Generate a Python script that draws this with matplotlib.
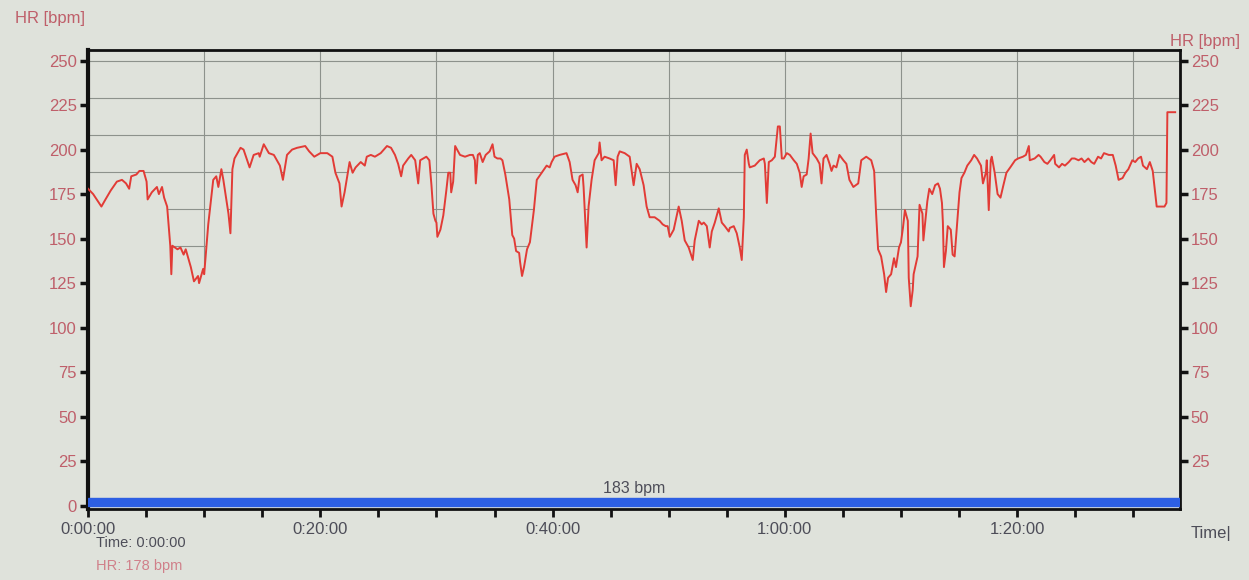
import matplotlib.pyplot as plt
import matplotlib.transforms as mtransforms
from matplotlib.ticker import MultipleLocator, FuncFormatter

plt.rcParams['font.family'] = ['Liberation Sans', 'DejaVu Sans']

# heart-rate trace: elapsed minutes, bpm
minutes = [
    0.0, 0.44, 1.15, 1.5, 1.95, 2.48, 2.92, 3.27, 3.54, 3.72, 4.16, 4.42, 4.78, 5.04, 5.13,
    5.49, 5.93, 6.1, 6.37, 6.55, 6.81, 7.08, 7.17, 7.26, 7.7, 7.96, 8.23, 8.41, 8.67, 8.85,
    9.12, 9.47, 9.56, 9.91, 10.0, 10.35, 10.78, 11.04, 11.22, 11.48, 11.65, 12.09, 12.26,
    12.43, 12.61, 13.13, 13.39, 13.65, 13.91, 14.26, 14.7, 14.78, 15.13, 15.57, 16.0, 16.26,
    16.52, 16.78, 17.13, 17.57, 18.0, 18.7, 19.04, 19.48, 20.0, 20.6, 21.04, 21.3, 21.65,
    21.83, 22.09, 22.52, 22.78, 23.04, 23.48, 23.83, 24.0, 24.35,
    24.7, 25.2, 25.74, 26.09, 26.43, 26.7, 26.96, 27.13, 27.57, 27.83, 28.17, 28.43, 28.6,
    28.87, 29.13, 29.39, 29.57, 29.74, 29.91, 30.0, 30.08, 30.34, 30.59, 30.85, 31.02, 31.19,
    31.27, 31.44, 31.61, 32.03, 32.46, 32.88, 33.14, 33.31, 33.39, 33.56, 33.73, 33.98, 34.24,
    34.58, 34.83, 35.0, 35.25, 35.51, 35.68, 35.93, 36.27, 36.53, 36.69, 36.86, 37.12, 37.2,
    37.37, 37.54, 37.8, 38.05, 38.39, 38.64, 39.07, 39.49, 39.75, 39.92, 40.17, 40.6, 41.2,
    41.47, 41.72, 41.98, 42.16, 42.33, 42.59, 42.67, 42.93, 43.1, 43.36, 43.62, 43.97, 44.05,
    44.22, 44.48, 44.91, 45.26, 45.43, 45.6, 45.78, 46.21, 46.64, 46.98, 47.24, 47.5, 47.84,
    48.1, 48.36,
    48.79, 49.22, 49.48, 49.74, 49.91, 50.09, 50.43, 50.69, 50.86, 51.12, 51.38, 51.72, 52.07,
    52.24, 52.59, 52.84, 53.02, 53.28, 53.53, 53.71, 53.97, 54.31, 54.57, 54.83, 55.17, 55.26,
    55.6, 55.86, 56.12, 56.29, 56.47, 56.55, 56.72, 56.9, 56.98, 57.41, 57.84, 58.19, 58.28,
    58.45, 58.62, 58.88, 59.14, 59.4, 59.57, 59.74, 59.91, 60.17, 60.43, 60.77, 61.03, 61.28,
    61.45, 61.62, 61.88, 62.05, 62.22, 62.39, 62.74, 62.99, 63.16, 63.33, 63.59, 63.85, 64.02,
    64.19, 64.44, 64.7, 65.04, 65.3, 65.56, 65.9, 66.32, 66.58, 67.01, 67.44, 67.69, 67.86,
    68.03, 68.29, 68.55, 68.72, 68.89, 69.15, 69.32, 69.4, 69.57, 69.83, 70.0, 70.17, 70.34,
    70.59, 70.67, 70.84, 71.01, 71.09, 71.43, 71.6, 71.85, 71.93, 72.27, 72.44,
    72.69, 72.94, 73.19, 73.36, 73.53, 73.61, 73.7, 73.87, 74.03, 74.29, 74.45, 74.62, 74.87,
    75.04, 75.21, 75.46, 75.71, 76.05, 76.3, 76.55, 76.89, 77.06, 77.31, 77.39, 77.56, 77.73,
    77.82, 78.07, 78.32, 78.57, 78.82, 79.08, 79.41, 79.83, 80.08, 80.5, 80.76, 81.01, 81.09,
    81.51, 81.85, 82.02, 82.35, 82.61, 82.86, 83.19, 83.28, 83.61, 83.87, 84.12, 84.45, 84.71,
    84.96, 85.29, 85.55, 85.8, 86.13, 86.39, 86.64, 86.97, 87.23, 87.48, 87.9, 88.24, 88.49,
    88.74, 89.08, 89.33, 89.58, 89.92, 90.17, 90.42, 90.67, 90.84, 91.18, 91.43, 91.68, 92.02,
    92.27, 92.69, 92.86, 92.94, 93.61,
]
hr = [
    178, 175, 168, 172, 177, 182, 183, 181, 178, 185, 186, 188, 188, 182, 172,
    176, 179, 175, 179, 173, 168, 146, 130, 146, 144, 145, 141, 144, 138, 134,
    126, 129, 125, 133, 130, 158, 183, 185, 179, 189, 183, 164, 153,
    189, 195, 201, 200, 195, 190, 197, 198, 196, 203, 198, 197, 194,
    191, 183, 197, 200, 201, 202, 199, 196, 198, 198, 196, 187, 181,
    168, 176, 193, 187, 190, 193, 191, 196, 197,
    196, 198, 202, 201, 197, 192, 185, 191, 195, 197, 194, 181, 194,
    195, 196, 194, 180, 164, 160, 159, 151, 155, 163, 177, 187, 187,
    176, 182, 202, 197, 196, 197, 197, 194, 181, 197, 198, 193, 197,
    199, 203, 196, 195, 195, 194, 186, 172, 152, 150, 143, 142, 137,
    129, 134, 144, 148, 166, 183, 187, 191, 190, 193, 196, 197, 198,
    193, 183, 180, 176, 185, 186, 179, 145, 168, 183, 194, 198, 204,
    194, 196, 195, 194, 180, 196, 199, 198, 196, 180, 192, 189, 180,
    168, 162,
    162, 160, 158, 157, 157, 151, 155, 163, 168, 160, 149, 145, 138,
    149, 160, 158, 159, 157, 145, 154, 159, 167, 159, 157, 154, 156,
    157, 153, 145, 138, 162, 197, 200, 192, 190, 191, 194, 195, 192,
    170, 193, 194, 196, 213, 213, 195, 195, 198, 197, 194, 192, 187,
    179, 185, 186, 195, 209, 198, 195, 192, 181, 195, 197, 192, 188,
    191, 190, 197, 194, 192, 183, 179, 181, 194, 196, 194, 188, 164,
    144, 140, 130, 120, 128, 130, 136, 139, 134, 145, 148, 156, 166,
    160, 128, 112, 121, 130, 140, 169, 164, 149, 171, 178,
    175, 180, 181, 178, 170, 159, 134, 143, 157, 155, 141, 140, 161,
    176, 184, 187, 191, 194, 197, 195, 191, 181, 187, 194, 166, 194,
    196, 187, 175, 173, 180, 187, 190, 194, 195, 196, 197, 202, 194,
    195, 197, 196, 193, 192, 194, 197, 192, 190, 192, 191, 193, 195,
    195, 194, 195, 193, 195, 193, 192, 196, 195, 198, 197, 197, 191,
    183, 184, 187, 189, 194, 193, 195, 196, 191, 189, 193, 188, 168,
    168, 168, 170, 221, 221,
]

y_ticks_left = [0, 25, 50, 75, 100, 125, 150, 175, 200, 225, 250]
y_ticks_right = [25, 50, 75, 100, 125, 150, 175, 200, 225, 250]
avg_label = "183 bpm"
cursor_time = "Time: 0:00:00"
cursor_hr = "HR: 178 bpm"

bg = '#dfe2db'
pink = '#bf5f6a'
grey_txt = '#4d4d58'

fig = plt.figure(figsize=(12.49, 5.80), dpi=100, facecolor=bg)
ax = fig.add_axes([0.0705, 0.122, 0.874, 0.792])
ax.set_facecolor(bg)
ax.set_xlim(0, 94)
ax.set_ylim(-2, 256)

# grid: every 10 minutes / every 250/12 bpm, hidden under the curve
for k in range(1, 10):
    ax.axvline(k * 10, color='#8d928c', lw=0.8, zorder=1)
for k in range(0, 7):
    ax.axhline(250 - k * 250 / 12, color='#8d928c', lw=0.8, zorder=1)
x_end = ax.get_xlim()[1]
ax.fill_between(minutes + [x_end], -2, hr + [hr[-1]], color=bg, lw=0, zorder=2)
ax.plot(minutes, hr, color='#e23b36', lw=1.4, zorder=3)

# blue bar at the bottom
ax.axhspan(0, 4.5, color='#2d5fe3', zorder=4)
trans = mtransforms.blended_transform_factory(ax.transAxes, ax.transData)
ax.text(0.5, 5.5, avg_label, transform=trans, ha='center', va='bottom',
        fontsize=11.5, color=grey_txt, zorder=5)

for side in ['left', 'top', 'right', 'bottom']:
    ax.spines[side].set_color('#111111')
ax.spines['left'].set_linewidth(3)
ax.spines['top'].set_linewidth(2)
ax.spines['right'].set_linewidth(2)
ax.spines['bottom'].set_linewidth(2)

ax.set_yticks(y_ticks_left)
ax.tick_params(axis='y', length=6, width=2.5, color='#111111', labelcolor=pink,
               labelsize=12, pad=2)
ax.xaxis.set_major_locator(MultipleLocator(20))
ax.xaxis.set_minor_locator(MultipleLocator(5))
ax.xaxis.set_major_formatter(FuncFormatter(
    lambda m, p: f"{int(m // 60)}:{int(m % 60):02d}:00"))
ax.tick_params(axis='x', which='both', length=6, width=2, color='#111111')
ax.tick_params(axis='x', labelcolor=grey_txt, labelsize=12, pad=3)

ax2 = ax.twinx()
ax2.set_ylim(ax.get_ylim())
ax2.set_yticks(y_ticks_right)
ax2.tick_params(axis='y', length=6, width=2.5, color='#111111', labelcolor=pink,
                labelsize=12, pad=2)
for side in ['left', 'top', 'right', 'bottom']:
    ax2.spines[side].set_visible(False)

fig.text(0.012, 0.968, "HR [bpm]", color=pink, fontsize=12, ha='left', va='center')
fig.text(0.937, 0.928, "HR [bpm]", color=pink, fontsize=12, ha='left', va='center')
fig.text(0.953, 0.08, "Time|", color=grey_txt, fontsize=12, ha='left', va='center')
fig.text(0.077, 0.063, cursor_time, color=grey_txt, fontsize=10.5, ha='left', va='center')
fig.text(0.077, 0.024, cursor_hr, color='#d0808a', fontsize=10.5, ha='left', va='center')

fig.savefig('out.png', dpi=100, facecolor=bg)
